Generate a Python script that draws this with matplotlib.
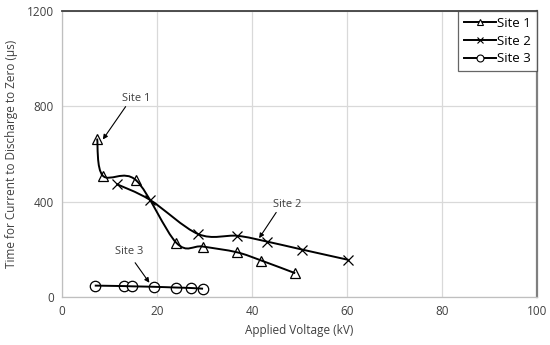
import matplotlib
matplotlib.use('Agg')
import matplotlib.pyplot as plt
from matplotlib.path import Path
from matplotlib.patches import PathPatch
from matplotlib.lines import Line2D
import numpy as np

plt.rcParams['font.family'] = ['Open Sans', 'DejaVu Sans']

## data
site1_kv = [7.4, 8.6, 15.6, 24.1, 29.6, 36.8, 42.0, 49.1]
site1_us = [665, 509, 490, 227, 212, 188, 153, 100]
site2_kv = [11.5, 18.5, 28.7, 36.9, 43.1, 50.6, 60.3]
site2_us = [474, 408, 264, 257, 233, 199, 156]
site3_kv = [6.9, 13.1, 14.7, 19.4, 23.9, 27.1, 29.7]
site3_us = [48, 46, 45, 43, 40, 38, 35]

x_ticks = [0, 20, 40, 60, 80, 100]
y_ticks = [0, 400, 800, 1200]


def smooth_path(xs, ys, ax):
    # excel-style smoothed line: cubic bezier through the points
    # built in pixel space so it looks the same as the picture
    pts = ax.transData.transform(np.column_stack([xs, ys]))
    n = len(pts)
    verts = [pts[0]]
    codes = [Path.MOVETO]
    for i in range(n - 1):
        p0 = pts[i - 1] if i > 0 else pts[i]
        p1 = pts[i]
        p2 = pts[i + 1]
        p3 = pts[i + 2] if i + 2 < n else pts[i + 1]
        c1 = p1 + (p2 - p0) / 6.0
        c2 = p2 - (p3 - p1) / 6.0
        verts += [c1, c2, p2]
        codes += [Path.CURVE4] * 3
    return Path(verts, codes)


fig = plt.figure(figsize=(5.5, 3.45), dpi=100)
ax = fig.add_axes([0.1127, 0.139, 0.8636, 0.829])
ax.set_xlim(0, 100)
ax.set_ylim(0, 1200)
ax.set_xticks(x_ticks)
ax.set_yticks(y_ticks)
ax.tick_params(length=0, labelsize=8.5, colors='#404040', pad=6)
ax.grid(True, color='#d9d9d9', linewidth=0.9)
ax.set_axisbelow(True)
for s in ['left', 'bottom']:
    ax.spines[s].set_color('#bfbfbf')
    ax.spines[s].set_linewidth(0.9)
ax.spines['top'].set_color('#404040')
ax.spines['top'].set_linewidth(1.3)
ax.spines['right'].set_color('#7f7f7f')
ax.spines['right'].set_linewidth(1.6)

fig.canvas.draw()
series = [(site1_kv, site1_us, '^', 'Site 1'),
          (site2_kv, site2_us, 'x', 'Site 2'),
          (site3_kv, site3_us, 'o', 'Site 3')]
handles = []
for xs, ys, m, lab in series:
    patch = PathPatch(smooth_path(xs, ys, ax), transform=None, facecolor='none',
                      edgecolor='black', linewidth=1.4, zorder=3)
    patch.set_clip_path(ax.patch)
    fig.add_artist(patch)
    ax.plot(xs, ys, linestyle='none', marker=m, markersize=7.5,
            markerfacecolor='white', markeredgecolor='black', markeredgewidth=0.9, zorder=4)
    handles.append(Line2D([], [], color='black', linewidth=1.4, marker=m, markersize=5,
                          markerfacecolor='white', markeredgecolor='black',
                          markeredgewidth=0.8, label=lab))

leg = ax.legend(handles=handles, loc='upper right', bbox_to_anchor=(1.0, 1.0),
                fontsize=9.5, frameon=True, fancybox=False, borderaxespad=0,
                handlelength=2.4, handletextpad=0.1, labelspacing=0.35,
                borderpad=0.45)
leg.get_frame().set_edgecolor('#404040')
leg.get_frame().set_linewidth(0.9)

arrow = dict(arrowstyle='-|>', color='black', linewidth=0.8, mutation_scale=7,
             shrinkA=0, shrinkB=0)
ax.annotate('', xy=(8.6, 661), xytext=(13.4, 799), arrowprops=arrow)
ax.text(15.7, 832, 'Site 1', fontsize=8, ha='center', va='center', color='#404040')
ax.annotate('', xy=(41.5, 247), xytext=(45.1, 355), arrowprops=arrow)
ax.text(47.4, 387, 'Site 2', fontsize=8, ha='center', va='center', color='#404040')
ax.annotate('', xy=(18.4, 60), xytext=(15.4, 144), arrowprops=arrow)
ax.text(14.1, 191, 'Site 3', fontsize=8, ha='center', va='center', color='#404040')

ax.set_xlabel('Applied Voltage (kV)', fontsize=8.5, color='#404040', labelpad=4)
ax.set_ylabel('Time for Current to Discharge to Zero (\u03bcs)', fontsize=8.5,
              color='#404040', labelpad=6)

plt.savefig('out.png', dpi=100)
